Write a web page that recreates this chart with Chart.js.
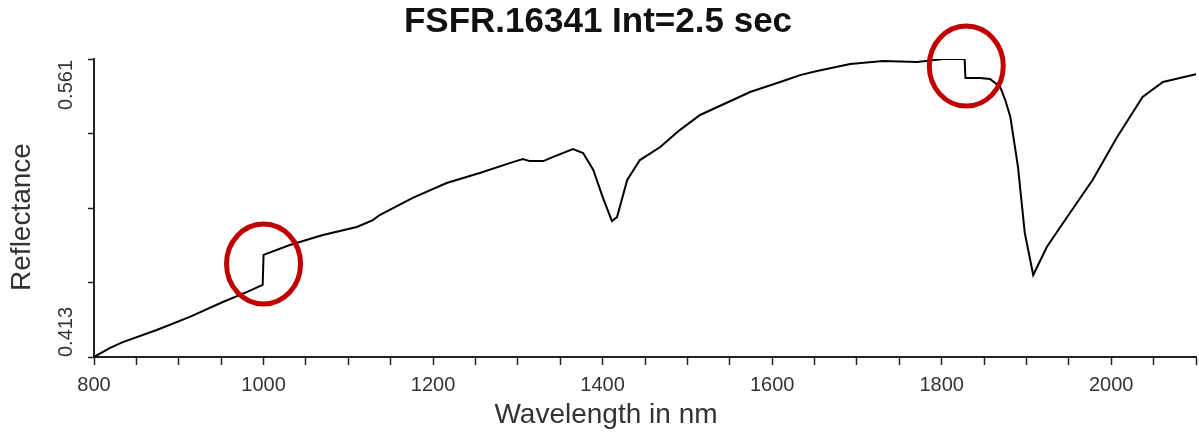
<!DOCTYPE html>
<html>
<head>
<meta charset="utf-8">
<script src="https://cdn.jsdelivr.net/npm/chart.js@4/dist/chart.umd.min.js"></script>
<style>
  html, body { margin: 0; padding: 0; background: #fff; }
  #wrap { width: 1199px; height: 435px; }
</style>
</head>
<body>
<div id="wrap"><canvas id="myChart"></canvas></div>
<script>
// spectrum
var wavelength = [800, 819, 834, 874, 913, 952, 980, 999, 1000, 1031, 1070, 1110, 1129, 1137, 1176, 1216, 1255, 1294, 1306,
    1314, 1330, 1341, 1365, 1377, 1389, 1400, 1411, 1417, 1429, 1444, 1468, 1491, 1515, 1574, 1613, 1633, 1653, 1692,
    1731, 1771, 1802, 1827, 1828, 1845, 1857, 1869, 1875, 1881, 1890, 1898, 1908, 1924, 1948, 1978, 2007, 2037, 2061, 2100];
var reflectance = [0.4130, 0.4175, 0.4204, 0.4264, 0.4329, 0.4403, 0.4452, 0.4488, 0.4637, 0.4686, 0.4736, 0.4776, 0.4810, 0.4835, 0.4920, 0.4994, 0.5044, 0.5098, 0.5113,
    0.5103, 0.5103, 0.5123, 0.5163, 0.5143, 0.5059, 0.4925, 0.4805, 0.4825, 0.5009, 0.5108, 0.5173, 0.5257, 0.5332, 0.5446, 0.5501, 0.5530, 0.5550, 0.5585,
    0.5600, 0.5595, 0.5610, 0.5615, 0.5516, 0.5516, 0.5511, 0.5471, 0.5406, 0.5322, 0.5074, 0.4746, 0.4537, 0.4676, 0.4825, 0.5009, 0.5223, 0.5421, 0.5496, 0.5535];

var yLabelled = [0.413, 0.561];
// the two circled jumps (wavelength, reflectance)
var markWavelength = [1000, 1829];
var markReflectance = [0.4592, 0.5575];

var points = wavelength.map(function (w, i) { return { x: w, y: reflectance[i] }; });

var extras = {
    id: 'extras',
    afterDraw: function (chart) {
        var ctx = chart.ctx;
        var xs = chart.scales.x, ys = chart.scales.y;
        ctx.save();
        // y end labels, rotated and tucked inside the axis ends
        ctx.font = '20px "Liberation Sans", Arial, sans-serif';
        ctx.fillStyle = '#333';
        ctx.textBaseline = 'middle';
        yLabelled.forEach(function (v, i) {
            ctx.save();
            ctx.translate(66, ys.getPixelForValue(v) + (i === 0 ? 0 : 1));
            ctx.rotate(-Math.PI / 2);
            ctx.textAlign = i === 0 ? 'left' : 'right';
            ctx.fillText(v.toFixed(3), 0, 0);
            ctx.restore();
        });
        // y axis title, sits a little below the middle of the axis
        ctx.save();
        ctx.font = '28px "Liberation Sans", Arial, sans-serif';
        ctx.translate(22, 217);
        ctx.rotate(-Math.PI / 2);
        ctx.textAlign = 'center';
        ctx.fillText('Reflectance', 0, 0);
        ctx.restore();
        // x axis title
        ctx.font = '28px "Liberation Sans", Arial, sans-serif';
        ctx.textAlign = 'center';
        ctx.fillText('Wavelength in nm', 606, 415);
        // red circles
        ctx.strokeStyle = '#c00000';
        ctx.lineWidth = 5;
        markWavelength.forEach(function (w, i) {
            ctx.beginPath();
            ctx.ellipse(xs.getPixelForValue(w), ys.getPixelForValue(markReflectance[i]), 37, 40, 0, 0, Math.PI * 2);
            ctx.stroke();
        });
        ctx.restore();
    }
};

var ctx = document.getElementById('myChart');
var myChart = new Chart(ctx, {
    type: 'line',
    data: {
        datasets: [
            {
                label: 'Reflectance',
                data: points,
                fill: false,
                borderColor: '#000',
                borderWidth: 2,
                pointRadius: 0,
                tension: 0
            }
        ]
    },
    options: {
        responsive: true,
        maintainAspectRatio: false,
        animation: false,
        layout: { padding: { left: 0, right: 3, top: 0, bottom: 0 } },
        plugins: {
            legend: { display: false },
            tooltip: { enabled: false },
            title: {
                display: true,
                text: 'FSFR.16341 Int=2.5 sec',
                color: '#111',
                font: { family: '"Liberation Sans", Arial, sans-serif', size: 35, weight: 'bold' },
                padding: { top: 1, bottom: 16 }
            }
        },
        scales: {
            x: {
                type: 'linear',
                min: 800,
                max: 2100,
                afterFit: function (s) {
                    s.height = 78;
                    s.paddingLeft = 0;
                    s.paddingRight = 0;
                },
                border: { color: '#222', width: 2 },
                grid: { drawOnChartArea: false, tickLength: 8, tickColor: '#222', tickWidth: 1.5 },
                ticks: {
                    stepSize: 50,
                    autoSkip: false,
                    maxRotation: 0,
                    padding: 8,
                    color: '#333',
                    font: { family: '"Liberation Sans", Arial, sans-serif', size: 20 },
                    callback: function (v) { return v % 200 === 0 ? v : ''; }
                }
            },
            y: {
                min: 0.413,
                max: 0.561,
                afterFit: function (s) { s.width = 94; },
                border: { color: '#222', width: 2 },
                grid: { drawOnChartArea: false, tickLength: 6, tickColor: '#222', tickWidth: 1.5 },
                ticks: { stepSize: 0.037, display: false }
            }
        }
    },
    plugins: [extras]
});
</script>
</body>
</html>
